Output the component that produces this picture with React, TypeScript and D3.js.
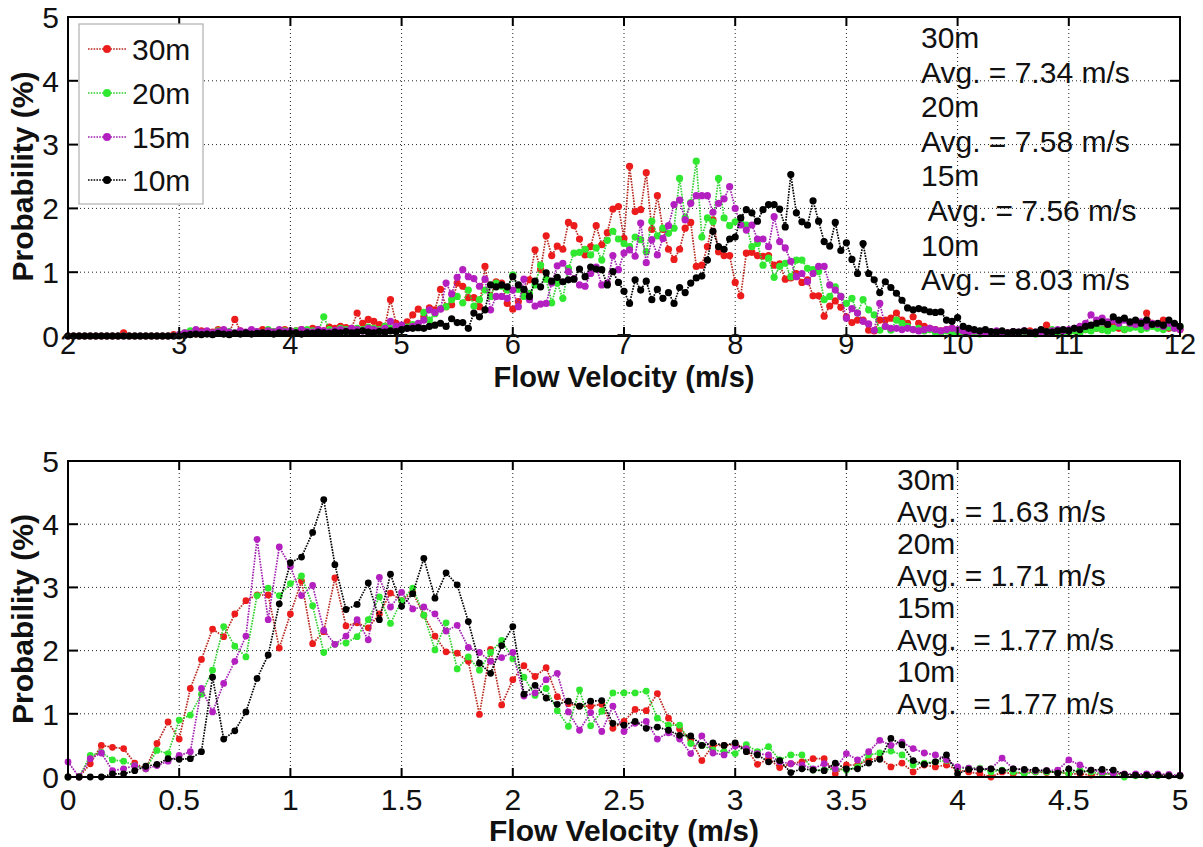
import React from "react";
import * as d3 from "d3";

// ---------- DATA ----------
// Top panel: velocity bins 2.0 .. 12.0 m/s, step 0.05
const topBins: number[] = d3.range(201).map((i) => +(2 + i * 0.05).toFixed(2));
// Bottom panel: velocity bins 0 .. 5 m/s, step 0.05
const bottomBins: number[] = d3.range(101).map((i) => +(i * 0.05).toFixed(2));

const topXTicks = [2, 3, 4, 5, 6, 7, 8, 9, 10, 11, 12];
const bottomXTicks = [0, 0.5, 1, 1.5, 2, 2.5, 3, 3.5, 4, 4.5, 5];
const yTicks = [0, 1, 2, 3, 4, 5];

const seriesNames = ["30m", "20m", "15m", "10m"];

const top30m = [
  0,0,0,0,0,0,0,0,0,0,0.05,0,0,0,0,0,0,0,0,0.02,
  0.02,0.03,0.05,0.03,0.08,0.05,0.06,0.1,0.08,0.05,0.26,0.08,0.05,0.07,0.06,0.1,0.08,0.07,0.05,0.1,
  0.05,0.08,0.1,0.06,0.12,0.1,0.08,0.14,0.12,0.15,0.13,0.12,0.36,0.2,0.26,0.23,0.18,0.15,0.57,0.2,
  0.15,0.22,0.33,0.42,0.3,0.44,0.41,0.73,0.46,0.49,0.83,0.78,0.6,0.6,0.46,1.09,0.62,0.85,0.83,0.51,
  0.42,0.54,0.72,0.88,1.35,1.04,1.57,1.26,1.41,1.36,1.78,1.73,1.52,1.27,1.4,1.73,1.43,1.62,1.99,2.03,
  1.53,2.66,1.95,1.98,2.56,1.67,2.2,1.67,1.36,1.2,1.36,1.69,1.78,1.09,1.11,1.4,1.82,1.32,1.26,1.26,
  0.84,0.63,1.3,1.31,1.26,1.25,1.26,1.11,1.13,0.89,0.91,0.98,0.84,0.88,0.63,0.63,0.31,0.47,0.55,0.45,
  0.3,0.21,0.25,0.25,0.09,0.08,0.25,0.25,0.28,0.36,0.25,0.2,0.3,0.2,0.15,0.12,0.1,0.08,0.1,0.12,
  0.05,0.06,0.05,0.04,0.05,0.06,0.05,0.04,0.06,0.05,0.04,0.05,0.06,0.08,0.05,0.06,0.17,0.08,0.06,0.07,
  0.08,0.1,0.12,0.1,0.15,0.12,0.1,0.18,0.15,0.12,0.1,0.14,0.18,0.12,0.36,0.2,0.15,0.25,0.12,0.15,
  0.1,
];
const top20m = [
  0,0,0,0,0,0,0,0,0,0,0,0,0,0,0,0,0,0,0,0,
  0.02,0.05,0.08,0.05,0.03,0.06,0.04,0.08,0.05,0.07,0.05,0.06,0.04,0.08,0.06,0.05,0.1,0.07,0.06,0.08,
  0.06,0.08,0.05,0.1,0.08,0.07,0.3,0.1,0.08,0.12,0.1,0.08,0.12,0.1,0.14,0.12,0.1,0.15,0.12,0.13,
  0.1,0.14,0.18,0.15,0.37,0.25,0.35,0.43,0.46,0.57,0.62,0.52,0.72,0.47,0.57,0.72,0.62,0.83,0.78,0.72,
  0.96,0.73,0.62,0.67,0.8,1.11,0.89,0.52,0.83,0.59,1.06,1.3,1.31,1.36,1.27,1.38,1.19,1.5,1.64,1.52,
  1.45,1.4,1.55,1.51,1.32,1.8,1.57,1.69,1.61,1.69,2.47,1.85,2.09,2.74,1.55,1.85,1.79,2.47,1.85,1.73,
  1.79,1.78,1.74,1.4,1.45,1.11,1.22,0.92,1.09,1.14,0.93,1.19,1.19,1.06,1.04,1.01,0.57,0.62,0.77,0.62,
  0.51,0.59,0.36,0.57,0.41,0.33,0.09,0.15,0.09,0.25,0.2,0.15,0.1,0.12,0.08,0.1,0.06,0.05,0.08,0.06,
  0.05,0.04,0.06,0.05,0.03,0.05,0.04,0.06,0.05,0.04,0.06,0.05,0.04,0.05,0.03,0.06,0.05,0.1,0.06,0.05,
  0.06,0.08,0.05,0.1,0.08,0.12,0.1,0.08,0.12,0.15,0.1,0.12,0.14,0.1,0.12,0.15,0.12,0.1,0.14,0.12,
  0.15,
];
const top15m = [
  0,0,0,0,0,0,0,0,0,0,0,0,0,0,0,0,0,0,0,0,
  0.02,0.05,0.04,0.1,0.06,0.08,0.05,0.07,0.1,0.06,0.05,0.08,0.06,0.1,0.07,0.05,0.08,0.06,0.1,0.07,
  0.08,0.05,0.1,0.07,0.06,0.1,0.08,0.06,0.09,0.1,0.08,0.12,0.1,0.08,0.12,0.1,0.08,0.12,0.23,0.15,
  0.17,0.12,0.15,0.2,0.25,0.41,0.37,0.42,0.83,0.66,0.92,1.04,0.93,0.9,0.78,0.89,0.41,0.62,0.62,0.59,
  0.72,0.46,0.89,0.57,0.47,0.5,0.51,0.83,1.1,1.14,1.01,0.9,0.8,0.78,0.98,1.08,0.8,0.83,1.26,1.04,
  1.3,1.35,1.25,1.77,1.15,1.51,1.27,1.53,1.73,2.06,2.13,1.82,2.08,2.2,2.2,2.2,1.94,2.08,2.15,2.34,
  2.0,1.74,1.66,1.74,1.52,1.52,1.4,1.87,1.48,1.38,1.17,0.93,0.98,0.85,0.98,1.09,1.09,0.8,0.72,0.62,
  0.28,0.43,0.36,0.23,0.19,0.09,0.51,0.15,0.12,0.12,0.1,0.12,0.1,0.08,0.1,0.12,0.1,0.08,0.1,0.12,
  0.1,0.08,0.06,0.08,0.07,0.05,0.06,0.08,0.06,0.05,0.07,0.06,0.08,0.05,0.06,0.07,0.05,0.08,0.1,0.08,
  0.1,0.12,0.15,0.2,0.33,0.25,0.28,0.22,0.25,0.2,0.25,0.2,0.18,0.22,0.15,0.2,0.18,0.15,0.2,0.12,
  0.1,
];
const top10m = [
  0,0,0,0,0,0,0,0,0,0,0,0,0,0,0,0,0,0,0,0,
  0,0.01,0.02,0.03,0.02,0.03,0.02,0.04,0.03,0.02,0.04,0.03,0.05,0.03,0.04,0.05,0.04,0.03,0.05,0.04,
  0.04,0.05,0.03,0.05,0.04,0.06,0.05,0.04,0.06,0.05,0.07,0.05,0.06,0.08,0.06,0.05,0.07,0.06,0.08,0.07,
  0.1,0.12,0.12,0.13,0.12,0.15,0.17,0.2,0.15,0.27,0.21,0.21,0.12,0.36,0.3,0.41,0.8,0.77,0.8,0.77,
  0.93,0.8,0.73,0.62,0.86,0.77,0.99,0.86,0.92,0.85,0.88,0.89,1.05,0.93,1.08,1.05,1.04,0.8,1.01,0.84,
  0.7,0.51,0.88,0.72,0.86,0.57,0.73,0.59,0.68,0.51,0.76,0.68,0.83,0.91,0.94,1.19,1.64,1.4,1.36,1.52,
  1.55,1.85,1.98,1.93,1.8,1.98,2.06,2.06,1.99,1.71,2.53,1.93,1.79,1.74,2.12,1.8,1.48,1.41,1.78,1.34,
  1.46,1.2,0.98,1.45,0.98,0.88,0.68,0.85,0.76,0.67,0.56,0.44,0.41,0.43,0.41,0.38,0.37,0.38,0.25,0.23,
  0.29,0.15,0.12,0.1,0.08,0.1,0.07,0.06,0.08,0.05,0.07,0.06,0.08,0.05,0.06,0.1,0.07,0.06,0.08,0.1,
  0.08,0.12,0.1,0.15,0.17,0.2,0.22,0.18,0.3,0.25,0.28,0.22,0.25,0.2,0.25,0.18,0.2,0.17,0.25,0.2,
  0.15,
];

const bottom30m = [
  0,0,0.21,0.5,0.47,0.45,0.22,0.13,0.53,0.87,0.6,1.4,1.86,2.34,2.22,2.58,2.79,2.88,2.88,2.04,
  2.58,3.1,2.11,2.3,3.15,2.39,2.44,2.36,2.58,2.91,2.79,2.92,2.56,2.23,1.98,1.96,1.83,0.99,2.02,1.14,
  1.54,1.76,1.59,1.73,1.27,1.16,1.12,1.12,1.15,0.77,0.88,1.07,1.05,1.32,0.93,0.76,0.59,0.26,0.5,0.5,
  0.52,0.45,0.2,0.29,0.15,0.21,0.24,0.29,0.29,0.05,0.19,0.19,0.27,0.3,0.16,0.22,0.08,0.19,0.16,0.19,
  0.11,0.08,0.05,0,0.08,0.05,0.08,0.08,0.07,0.08,0.05,0.05,0.03,0.05,0.05,0.04,0.03,0.03,0.03,0.02,
  0.02,
];
const bottom20m = [
  0,0,0.34,0.39,0.27,0.25,0.18,0.13,0.42,0.37,0.9,0.98,1.31,1.69,2.38,2.07,1.9,2.87,2.99,2.87,
  3.06,3.18,2.71,1.97,2.1,2.12,2.22,2.49,2.85,2.43,2.79,2.99,2.56,2.01,2.44,1.71,1.9,1.69,1.97,2.16,
  1.87,1.58,1.29,1.4,1.05,0.8,1.38,0.81,1.04,1.33,1.33,1.33,1.36,0.93,0.82,0.82,0.53,0.5,0.43,0.4,
  0.37,0.51,0.4,0.48,0.27,0.35,0.35,0.11,0.11,0.13,0.11,0.16,0.35,0.38,0.41,0.35,0.19,0.22,0.24,0.26,
  0.14,0.14,0.14,0.08,0.11,0.08,0.05,0.08,0.08,0.08,0.05,0.11,0.08,0.05,0.05,0,0.02,0.02,0.02,0.02,
  0.02,
];
const bottom15m = [
  0.24,0,0.29,0.38,0.1,0.13,0.18,0.13,0.18,0.25,0.34,0.4,1.4,1.03,1.48,1.83,2.23,3.76,2.49,3.64,
  3.33,2.87,3.03,2.32,2.1,2.23,2.49,2.17,3.16,2.69,2.92,2.66,2.69,2.58,2.31,2.4,2.05,1.97,1.83,1.89,
  1.97,1.28,1.33,1.54,1.64,1.03,0.74,1.02,0.72,1.12,0.72,0.85,0.88,0.6,0.7,0.6,0.37,0.65,0.38,0.35,
  0.49,0.45,0.37,0.35,0.24,0.21,0.19,0.13,0.21,0.13,0.37,0.27,0.4,0.58,0.5,0.55,0.45,0.38,0.35,0.27,
  0.16,0.14,0.13,0.13,0.3,0.13,0.11,0.1,0.1,0.11,0.27,0.19,0.11,0.08,0.06,0.05,0.05,0.05,0.05,0.04,
  0.03,
];
const bottom10m = [
  0,0,0,0,0.05,0.05,0.1,0.17,0.2,0.29,0.28,0.29,0.4,1.58,0.6,0.73,1.03,1.56,1.93,2.74,
  3.39,3.48,3.87,4.39,3.36,2.65,2.73,3.07,2.49,3.21,2.7,2.9,3.46,2.83,3.23,3.04,2.46,1.8,1.64,2.08,
  2.38,1.31,1.45,1.25,1.15,1.2,1.12,1.2,1.21,0.85,0.82,0.88,0.77,0.79,0.74,0.66,0.65,0.5,0.54,0.5,
  0.54,0.4,0.35,0.24,0.26,0.07,0.13,0.11,0.1,0.22,0.13,0.13,0.22,0.28,0.61,0.51,0.26,0.2,0.24,0.35,
  0.05,0.12,0.12,0.13,0.1,0.13,0.12,0.11,0.1,0.06,0.13,0.07,0.11,0.12,0.11,0.04,0.03,0.03,0.03,0.02,
  0.02,
];

const topNotes = ["30m", "Avg. = 7.34 m/s", "20m", "Avg. = 7.58 m/s", "15m", " Avg. = 7.56 m/s", "10m", "Avg. = 8.03 m/s"];
const bottomNotes = ["30m", "Avg. = 1.63 m/s", "20m", "Avg. = 1.71 m/s", "15m", "Avg.  = 1.77 m/s", "10m", "Avg.  = 1.77 m/s"];

// ---------- STYLE ----------
const markerColors = ["#ec1c1c", "#2fe82f", "#b420c0", "#000000"];
const lineColors = ["#b8281e", "#2fd02f", "#a020b0", "#000000"];
const FONT = "'Liberation Sans', Arial, Helvetica, sans-serif";

type PanelProps = {
  left: number; right: number; top: number; bottom: number;
  xDomain: [number, number];
  xTicks: number[];
  bins: number[];
  data: number[][];
  notes: string[];
  noteX: number;
  noteY0: number;
  noteDy: number;
  tickBaseline: number;
  tickSize: number;
  titleBaseline: number;
  titleSize: number;
  r: number;
};

function Panel(p: PanelProps) {
  const x = d3.scaleLinear().domain(p.xDomain).range([p.left, p.right]);
  const y = d3.scaleLinear().domain([0, 5]).range([p.bottom, p.top]);
  const fmt = d3.format("~g");
  const gridStyle = { stroke: "#222", strokeWidth: 1, strokeDasharray: "1,3" };
  return (
    <g>
      {/* grid */}
      {p.xTicks.slice(1, -1).map((t) => (
        <line key={"gx" + t} x1={x(t)} x2={x(t)} y1={p.top} y2={p.bottom} {...gridStyle} />
      ))}
      {yTicks.slice(1, -1).map((t) => (
        <line key={"gy" + t} x1={p.left} x2={p.right} y1={y(t)} y2={y(t)} {...gridStyle} />
      ))}
      {/* series */}
      {p.data.map((vals, si) => {
        const line = d3
          .line<number>()
          .x((_, i) => x(p.bins[i]))
          .y((d) => y(d));
        return (
          <g key={"s" + si}>
            <path d={line(vals) || ""} fill="none" stroke={lineColors[si]} strokeWidth={1.7} strokeDasharray="1.6,1.2" />
            {vals.map((v, i) => (
              <circle key={i} cx={x(p.bins[i])} cy={y(v)} r={p.r} fill={markerColors[si]} />
            ))}
          </g>
        );
      })}
      {/* frame */}
      <rect x={p.left} y={p.top} width={p.right - p.left} height={p.bottom - p.top} fill="none" stroke="#000" strokeWidth={2} />
      {p.xTicks.map((t) => (
        <g key={"tx" + t}>
          <line x1={x(t)} x2={x(t)} y1={p.bottom} y2={p.bottom - 9} stroke="#000" strokeWidth={2} />
          <line x1={x(t)} x2={x(t)} y1={p.top} y2={p.top + 9} stroke="#000" strokeWidth={2} />
          <text x={x(t)} y={p.tickBaseline} textAnchor="middle" fontSize={p.tickSize} fontFamily={FONT} fill="#111">
            {fmt(t)}
          </text>
        </g>
      ))}
      {yTicks.map((t) => (
        <g key={"ty" + t}>
          <line x1={p.left} x2={p.left + 10} y1={y(t)} y2={y(t)} stroke="#000" strokeWidth={2} />
          <line x1={p.right} x2={p.right - 10} y1={y(t)} y2={y(t)} stroke="#000" strokeWidth={2} />
          <text x={p.left - 9} y={y(t)} dy="0.36em" textAnchor="end" fontSize={30} fontFamily={FONT} fill="#111">
            {t}
          </text>
        </g>
      ))}
      {/* axis titles */}
      <text x={(p.left + p.right) / 2} y={p.titleBaseline} textAnchor="middle" fontSize={p.titleSize} fontWeight="bold" fontFamily={FONT} fill="#111">
        Flow Velocity (m/s)
      </text>
      <text
        transform={`translate(33,${(p.top + p.bottom) / 2}) rotate(-90)`}
        textAnchor="middle"
        fontSize={30}
        fontWeight="bold"
        fontFamily={FONT}
        fill="#111"
      >
        Probability (%)
      </text>
      {/* annotations */}
      {p.notes.map((s, i) => (
        <text
          key={"n" + i}
          x={p.noteX}
          y={p.noteY0 + i * p.noteDy}
          fontSize={30}
          fontFamily={FONT}
          fill="#111"
          style={{ whiteSpace: "pre" }}
        >
          {s}
        </text>
      ))}
    </g>
  );
}

function Legend() {
  const rows = [49, 93, 137, 180];
  return (
    <g>
      <rect x={79} y={24} width={124} height={180} fill="#fff" stroke="#b0b0b0" strokeWidth={1.2} />
      {seriesNames.map((n, i) => (
        <g key={n}>
          <line x1={88} x2={127} y1={rows[i]} y2={rows[i]} stroke={lineColors[i]} strokeWidth={1.6} strokeDasharray="1.6,1.2" />
          <circle cx={107} cy={rows[i]} r={4} fill={markerColors[i]} />
          <text x={132} y={rows[i]} dy="0.36em" fontSize={30} fontFamily={FONT} fill="#111">
            {n}
          </text>
        </g>
      ))}
    </g>
  );
}

export default function App() {
  return (
    <svg width={1203} height={847} style={{ position: "absolute", left: 0, top: 0, background: "#fff" }}>
      <rect x={0} y={0} width={1203} height={847} fill="#fff" />
      <Panel
        left={68}
        right={1180}
        top={17}
        bottom={336}
        xDomain={[2, 12]}
        xTicks={topXTicks}
        bins={topBins}
        data={[top30m, top20m, top15m, top10m]}
        notes={topNotes}
        noteX={921}
        noteY0={48}
        noteDy={34.6}
        tickBaseline={354}
        tickSize={29}
        titleBaseline={387}
        titleSize={29}
        r={3.6}
      />
      <Legend />
      <Panel
        left={68}
        right={1180}
        top={461}
        bottom={777}
        xDomain={[0, 5]}
        xTicks={bottomXTicks}
        bins={bottomBins}
        data={[bottom30m, bottom20m, bottom15m, bottom10m]}
        notes={bottomNotes}
        noteX={897}
        noteY0={490}
        noteDy={32}
        tickBaseline={810}
        tickSize={30}
        titleBaseline={841}
        titleSize={30}
        r={3.4}
      />
    </svg>
  );
}
